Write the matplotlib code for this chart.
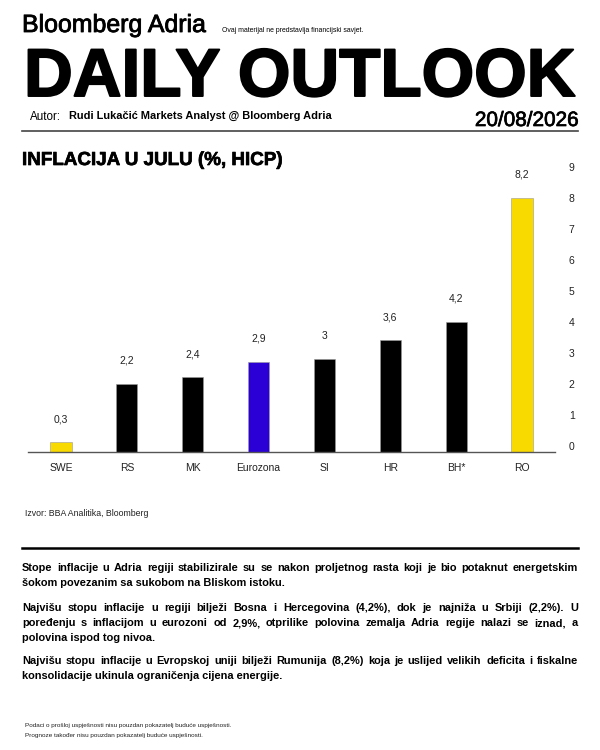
import matplotlib
matplotlib.use('Agg')
import matplotlib.pyplot as plt
import matplotlib.patheffects as pe
from matplotlib.lines import Line2D
from matplotlib.transforms import ScaledTranslation

# data
countries = ['SWE', 'RS', 'MK', 'Eurozona', 'SI', 'HR', 'BH*', 'RO']
inflation = [0.3, 2.2, 2.4, 2.9, 3.0, 3.6, 4.2, 8.2]
value_labels = ['0,3', '2,2', '2,4', '2,9', '3', '3,6', '4,2', '8,2']
bar_colors = ['#F8D900', '#000000', '#000000', '#2A00D6', '#000000', '#000000', '#000000', '#F8D900']
y_ticks = [0, 1, 2, 3, 4, 5, 6, 7, 8, 9]

paragraphs = [
    ['Stope inflacije u Adria regiji stabilizirale su se nakon proljetnog rasta koji je bio potaknut energetskim',
     'šokom povezanim sa sukobom na Bliskom istoku.'],
    ['Najvišu stopu inflacije u regiji bilježi Bosna i Hercegovina (4,2%), dok je najniža u Srbiji (2,2%). U',
     'poređenju s inflacijom u eurozoni od 2,9%, otprilike polovina zemalja Adria regije nalazi se iznad, a',
     'polovina ispod tog nivoa.'],
    ['Najvišu stopu inflacije u Evropskoj uniji bilježi Rumunija (8,2%) koja je uslijed velikih deficita i fiskalne',
     'konsolidacije ukinula ograničenja cijena energije.'],
]
para_y = [[567, 582], [607, 622, 637], [660, 675]]

FONT = 'Liberation Sans'
W, H = 600, 750

fig = plt.figure(figsize=(6, 7.5), dpi=100)
fig.patch.set_facecolor('white')
renderer = fig.canvas.get_renderer()


def fx(x):  # pixel -> figure fraction
    return x / W


def fy(y):
    return 1 - y / H


def heavy(lw):  # thicken glyphs a little
    return [pe.withStroke(linewidth=lw, foreground='black')]


def txt(x, y, s, size, weight='normal', ha='left', va='baseline', color='black', **kw):
    return fig.text(fx(x), fy(y), s, fontsize=size, fontweight=weight, ha=ha, va=va,
                    color=color, family=FONT, **kw)


def fit(t, width_px):  # scale font so the text is width_px wide
    w = t.get_window_extent(renderer).width
    t.set_fontsize(t.get_fontsize() * width_px / w)
    return t


def width_of(s, size, weight='bold'):
    t = fig.text(0, 0, s, fontsize=size, fontweight=weight, family=FONT)
    w = t.get_window_extent(renderer).width
    t.remove()
    return w


# header
fit(txt(22, 32, 'Bloomberg Adria', 16, path_effects=heavy(0.6)), 184)
fit(txt(222, 32, 'Ovaj materijal ne predstavlja financijski savjet.', 5), 143)
big = txt(24, 96, 'DAILY OUTLOOK', 48, weight='bold', path_effects=heavy(1.4))
fit(big, 551)
fit(txt(30, 120, 'Autor:', 7), 31)
fit(txt(69, 119, 'Rudi Lukačić Markets Analyst @ Bloomberg Adria', 8, weight='bold'), 262)
fit(txt(578, 126, '20/08/2026', 15, ha='right', path_effects=heavy(0.5)), 104)
fig.add_artist(Line2D([fx(22), fx(578)], [fy(131), fy(131)], color='#444444', lw=1.2))

fit(txt(22, 165, 'INFLACIJA U JULU (%, HICP)', 14, weight='bold', path_effects=heavy(0.5)), 261)

# chart
x0, x1 = 28.1, 554.9
ax = fig.add_axes([fx(x0), fy(451.7), (x1 - x0) / W, 288.3 / H])
pos = list(range(len(countries)))
ax.bar(pos, inflation, width=0.32, color=bar_colors, edgecolor='#9a9a9a', linewidth=0.4)
for i, (v, lab) in enumerate(zip(inflation, value_labels)):
    ax.annotate(lab, (i, v), xytext=(0, 16.5), textcoords='offset points',
                ha='center', va='center', fontsize=7.5, color='#222222', family=FONT)
ax.set_xlim(-0.5, 7.5)
ax.set_ylim(0, 9.3)
ax.set_xticks(pos)
ax.set_xticklabels(countries, fontsize=7.5, color='#222222', family=FONT)
ax.yaxis.tick_right()
ax.set_yticks(y_ticks)
ax.set_yticklabels([str(t) for t in y_ticks], fontsize=7.5, color='#222222', family=FONT)
ax.tick_params(axis='x', length=0, pad=8)
ax.tick_params(axis='y', length=0, pad=10)
for lab in ax.get_yticklabels():
    lab.set_transform(lab.get_transform() + ScaledTranslation(0, 0.06, fig.dpi_scale_trans))
for s in ['top', 'left', 'right']:
    ax.spines[s].set_visible(False)
ax.spines['bottom'].set_color('#555555')
ax.spines['bottom'].set_linewidth(1.0)
ax.patch.set_alpha(0)

txt(25, 516, 'Izvor: BBA Analitika, Bloomberg', 6.3, color='#222222')
fig.add_artist(Line2D([fx(22), fx(578)], [fy(548), fy(548)], color='black', lw=1.8))

# paragraphs, justified like the original
L, R = 22, 578
size = 10 * 263 / width_of(paragraphs[0][1], 10)
longest = max(width_of(l, size) for p in paragraphs for l in p)
if longest > (R - L) - 4:
    size = size * ((R - L) - 4) / longest
for lines, ys in zip(paragraphs, para_y):
    for k, (line, y) in enumerate(zip(lines, ys)):
        if k == len(lines) - 1:
            txt(L, y + 4, line, size, weight='bold')
            continue
        words = line.split(' ')
        widths = [width_of(w_, size) for w_ in words]
        gap = ((R - L) - sum(widths)) / (len(words) - 1)
        x = L
        for w_, wd in zip(words, widths):
            txt(x, y + 4, w_, size, weight='bold')
            x += wd + gap

# footer
txt(25, 727, 'Podaci o prošloj uspješnosti nisu pouzdan pokazatelj buduće uspješnosti.', 4.6, color='#222222')
txt(25, 737, 'Prognoze također nisu pouzdan pokazatelj buduće uspješnosti.', 4.6, color='#222222')

fig.savefig('out.png', dpi=100)
